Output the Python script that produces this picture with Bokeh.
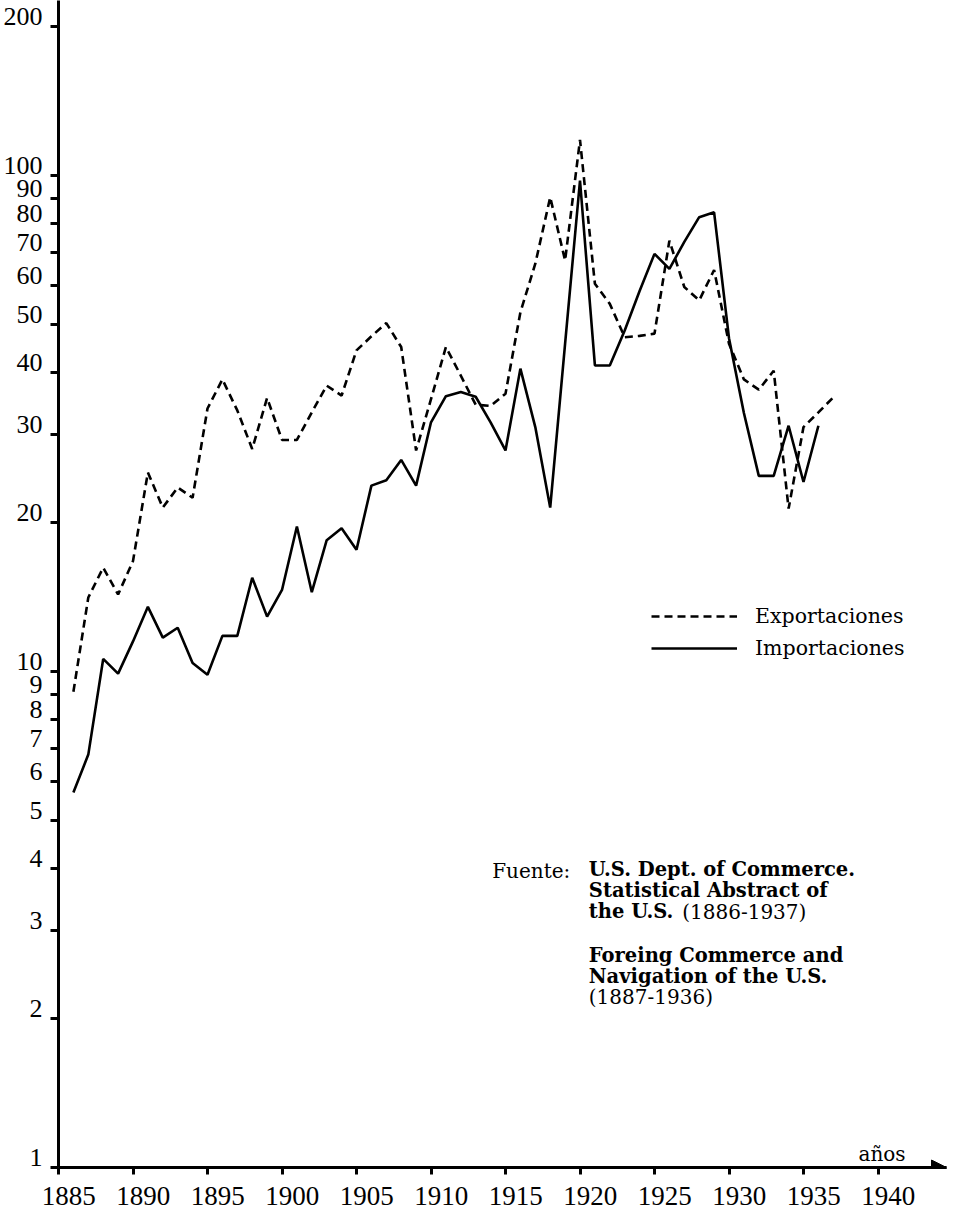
from bokeh.plotting import figure
from bokeh.models import (Range1d, FixedTicker, PrintfTickFormatter, Label,
                          Legend, LegendItem, Arrow, NormalHead)
from bokeh.embed import file_html
from bokeh.resources import INLINE

# ---------------- data ----------------
years_exp = list(range(1886, 1938))
exportaciones = [9.1, 14.1, 16.2, 14.3, 16.7, 25.2, 21.4, 23.5, 22.4, 33.9,
                 38.8, 33.6, 28.1, 35.6, 29.3, 29.3, 33.3, 37.7, 36.0, 44.4,
                 47.4, 50.4, 45.1, 27.9, 35.4, 45.1, 39.5, 34.5, 34.3, 36.3,
                 53.0, 66.4, 90.4, 67.4, 118.0, 60.5, 55.1, 47.2, 47.5, 48.0,
                 73.9, 59.6, 56.0, 64.5, 45.8, 38.8, 37.0, 40.4, 21.3, 31.1,
                 33.3, 35.7]

years_imp = list(range(1886, 1937))
importaciones = [5.7, 6.8, 10.6, 9.9, 11.5, 13.5, 11.7, 12.25, 10.4, 9.85,
                 11.8, 11.8, 15.45, 12.9, 14.6, 19.6, 14.45, 18.4, 19.45, 17.6,
                 23.7, 24.3, 26.7, 23.7, 31.8, 35.9, 36.6, 35.8, 31.8, 27.9,
                 40.8, 31.1, 21.4, 45.8, 97.7, 41.4, 41.4, 48.7, 58.5, 69.5,
                 64.8, 73.5, 82.4, 84.3, 47.0, 33.2, 24.8, 24.8, 31.3, 24.1,
                 31.3]

x_ticks = list(range(1885, 1945, 5))
y_ticks = [1, 2, 3, 4, 5, 6, 7, 8, 9, 10, 20, 30, 40, 50, 60, 70, 80, 90,
           100, 200]

series_labels = ["Exportaciones", "Importaciones"]

# ---------------- layout ----------------
W, H = 954, 1221
LEFT, BOTTOM, RIGHT = 58, 54, 8
X0 = 1885
PX_PER_YEAR = 14.9
DEC_PX = 496.0
FRAME_W = W - LEFT - RIGHT
FRAME_H = H - BOTTOM
x_end = X0 + FRAME_W / PX_PER_YEAR
y_end = 10 ** (FRAME_H / DEC_PX)


def xv(px):
    return X0 + (px - LEFT) / PX_PER_YEAR


def yv(px):
    return 10 ** ((FRAME_H - px) / DEC_PX)


p = figure(width=W, height=H,
           x_range=Range1d(X0, x_end), y_range=Range1d(1, y_end),
           y_axis_type="log", output_backend="svg", toolbar_location=None,
           min_border_left=LEFT, min_border_right=RIGHT, min_border_top=0,
           min_border_bottom=BOTTOM)
p.grid.visible = False
p.outline_line_color = None
p.background_fill_color = "white"

TICK_FONT = "Liberation Serif"
TEXT_FONT = "DejaVu Serif"

for ax in (p.xaxis[0], p.yaxis[0]):
    ax.axis_line_width = 3
    ax.axis_line_color = "black"
    ax.major_tick_line_width = 3
    ax.major_tick_line_color = "black"
    ax.major_tick_in = 0
    ax.minor_tick_line_color = None
    ax.major_label_text_font = TICK_FONT
    ax.major_label_text_color = "black"
    ax.formatter = PrintfTickFormatter(format="%d")

NB = "\u00a0"
p.xaxis.ticker = FixedTicker(ticks=x_ticks, minor_ticks=[])
p.xaxis.major_tick_out = 7
p.xaxis.major_label_standoff = 6
p.xaxis.major_label_text_font_size = "27px"
# the printed year labels sit a little to the right of their ticks
p.xaxis.major_label_overrides = {t: NB * 3 + str(t) for t in x_ticks}

p.yaxis.ticker = FixedTicker(ticks=y_ticks, minor_ticks=[])
p.yaxis.major_tick_out = 8
p.yaxis.major_label_standoff = 8
p.yaxis.major_label_text_font_size = "26px"
# the printed labels sit just above their ticks: a second, empty line with a
# reduced line height lifts each label by about half a line
p.yaxis.major_label_text_line_height = 0.7
p.yaxis.major_label_overrides = {v: f"{v}\n " for v in y_ticks}

r_exp = p.line(years_exp, exportaciones, line_color="black", line_width=2.6,
               line_dash="8 5")
r_imp = p.line(years_imp, importaciones, line_color="black", line_width=2.6)

legend = Legend(items=[LegendItem(label=series_labels[0], renderers=[r_exp]),
                       LegendItem(label=series_labels[1], renderers=[r_imp])],
                location=(593, 507), glyph_width=86, glyph_height=22,
                label_height=22, spacing=8, padding=0, margin=0,
                label_standoff=18, border_line_color=None,
                background_fill_alpha=0,
                label_text_font=TEXT_FONT, label_text_font_size="20.5px",
                label_text_color="black")
p.add_layout(legend)

# arrow head at the end of the x axis
p.add_layout(Arrow(end=NormalHead(size=15, fill_color="black",
                                  line_color="black", line_width=1),
                   x_start=x_end - 2, y_start=1, x_end=x_end, y_end=1,
                   line_width=3, line_color="black"))

p.add_layout(Label(x=xv(858), y=yv(1153), text="años", text_font=TEXT_FONT,
                   text_font_size="20px", text_baseline="alphabetic",
                   text_color="black"))

# source block
src = [
    ("Fuente:", 491.7, 870, "normal"),
    ("U.S. Dept. of Commerce.", 588.3, 869, "bold"),
    ("Statistical Abstract of", 588.3, 890, "bold"),
    ("the U.S.", 588.3, 911, "bold"),
    ("(1886-1937)", 681.7, 911, "normal"),
    ("Foreing Commerce and", 588.3, 955, "bold"),
    ("Navigation of the U.S.", 588.3, 976, "bold"),
    ("(1887-1936)", 588.3, 996, "normal"),
]
for txt, px, py, style in src:
    p.add_layout(Label(x=xv(px), y=yv(py), text=txt, text_font=TEXT_FONT,
                       text_font_size="19.5px" if style == "bold" else "20px",
                       text_font_style=style, text_baseline="alphabetic",
                       text_color="black"))

open("out.html", "w").write(file_html(p, INLINE))
